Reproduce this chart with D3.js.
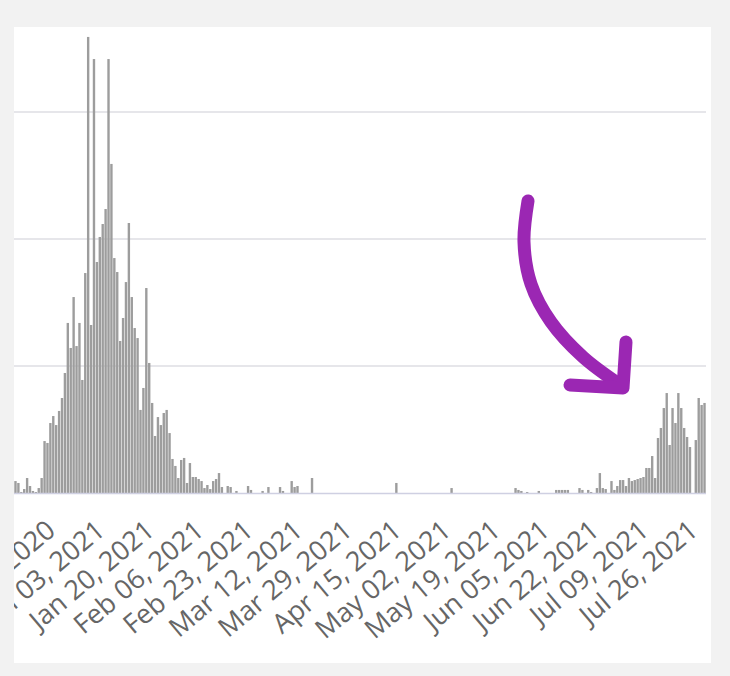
<!DOCTYPE html>
<html>
<head>
<meta charset="utf-8">
<script src="https://cdn.jsdelivr.net/npm/d3@7"></script>
<style>
  body { margin: 0; background: #f2f2f2; }
  svg { display: block; }
</style>
</head>
<body>
<script>
// Daily counts, one bar per day from startDate to endDate
const startDate = "2020-12-03";
const endDate = "2021-07-28";

const values = [
  94, 79, 8, 31, 118, 55, 16, 8, 39, 118,
  409, 394, 551, 606, 535, 646, 748, 945, 1339, 1142,
  1543, 1157, 1339, 890, 1732, 3591, 1323, 3417, 1819, 2016,
  2118, 2236, 3417, 2591, 1850, 1740, 1197, 1378, 1661, 2126,
  1543, 1299, 1220, 654, 827, 1614, 1024, 709, 449, 598,
  535, 630, 654, 472, 268, 213, 118, 260, 276, 79,
  236, 126, 126, 110, 94, 39, 63, 31, 94, 110,
  157, 47, 0, 55, 47, 0, 16, 0, 0, 0,
  55, 24, 0, 0, 0, 16, 0, 47, 0, 0,
  0, 47, 16, 0, 0, 94, 47, 55, 0, 0,
  0, 0, 118, 0, 0, 0, 0, 0, 0, 0,
  0, 0, 0, 0, 0, 0, 0, 0, 0, 0,
  0, 0, 0, 0, 0, 0, 0, 0, 0, 0,
  0, 79, 0, 0, 0, 0, 0, 0, 0, 0,
  0, 0, 0, 0, 0, 0, 0, 0, 0, 0,
  39, 0, 0, 0, 0, 0, 0, 0, 0, 0,
  0, 0, 0, 0, 0, 0, 0, 0, 0, 0,
  0, 0, 39, 24, 16, 0, 8, 0, 0, 0,
  16, 0, 0, 0, 0, 0, 24, 24, 24, 24,
  24, 0, 0, 0, 39, 24, 0, 24, 8, 0,
  39, 157, 39, 31, 0, 94, 24, 55, 102, 102,
  55, 118, 94, 102, 110, 118, 126, 197, 197, 291,
  118, 433, 512, 669, 787, 378, 669, 551, 787, 669,
  512, 441, 362, 0, 417, 748, 693, 709
];

const tickLabels = [
  "Dec 17, 2020", "Jan 03, 2021", "Jan 20, 2021", "Feb 06, 2021",
  "Feb 23, 2021", "Mar 12, 2021", "Mar 29, 2021", "Apr 15, 2021",
  "May 02, 2021", "May 19, 2021", "Jun 05, 2021", "Jun 22, 2021",
  "Jul 09, 2021", "Jul 26, 2021"
];

const gridValues = [1000, 2000, 3000];

// hand-drawn purple arrow on top of the screenshot (pixel coords)
const arrowCurve = [[528, 201], [524, 242], [531, 284], [551, 322], [583, 357], [619, 384]];
const arrowHead = [[626, 342], [623, 388], [570, 385]];

const W = 730, H = 676;
const panel = {x0: 14, y0: 27, x1: 711, y1: 663};
const margin = {top: 35.8, right: 24, bottom: 183, left: 14};

const parse = d3.timeParse("%Y-%m-%d");
const key = d3.timeFormat("%Y-%m-%d");
const parseLabel = d3.timeParse("%b %d, %Y");

const days = d3.timeDay.range(parse(startDate), d3.timeDay.offset(parse(endDate), 1)).map(key);
const data = days.map((d, i) => ({day: d, value: values[i]}));
const tickKeys = tickLabels.map(t => key(parseLabel(t)));
const labelByKey = new Map(tickKeys.map((k, i) => [k, tickLabels[i]]));

const svg = d3.select("body")
  .append("svg")
  .attr("width", W)
  .attr("height", H);

svg.append("defs").append("clipPath")
  .attr("id", "panel-clip")
  .append("rect")
  .attr("x", panel.x0).attr("y", panel.y0)
  .attr("width", panel.x1 - panel.x0).attr("height", panel.y1 - panel.y0);

svg.append("rect")
  .attr("x", panel.x0).attr("y", panel.y0)
  .attr("width", panel.x1 - panel.x0).attr("height", panel.y1 - panel.y0)
  .attr("fill", "#fff");

const g = svg.append("g").attr("clip-path", "url(#panel-clip)");

const x = d3.scaleBand()
  .domain(days)
  .range([margin.left, W - margin.right])
  .paddingInner(0.18)
  .paddingOuter(0.1);

const y = d3.scaleLinear()
  .domain([0, 3600])
  .range([H - margin.bottom, margin.top]);

// gridlines
g.selectAll("line.grid")
  .data(gridValues)
  .join("line")
  .attr("class", "grid")
  .attr("x1", margin.left)
  .attr("x2", W - margin.right)
  .attr("y1", d => y(d))
  .attr("y2", d => y(d))
  .attr("stroke", "#e6e6ea")
  .attr("stroke-width", 2);

// bars
g.selectAll("rect.bar")
  .data(data)
  .join("rect")
  .attr("class", "bar")
  .attr("x", d => x(d.day))
  .attr("y", d => y(d.value))
  .attr("width", x.bandwidth())
  .attr("height", d => y(0) - y(d.value))
  .attr("fill", "#9d9d9d");

// baseline
g.append("line")
  .attr("x1", margin.left)
  .attr("x2", W - margin.right)
  .attr("y1", y(0) + 0.5)
  .attr("y2", y(0) + 0.5)
  .attr("stroke", "#cfd0e2")
  .attr("stroke-width", 1.5);

// X axis with rotated labels
const xAxis = g.append("g")
  .attr("transform", `translate(0,${y(0)})`)
  .call(d3.axisBottom(x).tickValues(tickKeys).tickFormat(k => labelByKey.get(k)).tickSize(0));

xAxis.select(".domain").remove();
xAxis.selectAll("text")
  .attr("x", 0)
  .attr("y", 0)
  .attr("dy", 0)
  .attr("transform", "translate(1,40) rotate(-40)")
  .attr("text-anchor", "end")
  .attr("fill", "#666")
  .style("font-family", "'Open Sans', sans-serif")
  .style("font-size", "27px");

// arrow annotation
const arrow = g.append("g")
  .attr("fill", "none")
  .attr("stroke", "#9b27b3")
  .attr("stroke-width", 13)
  .attr("stroke-linecap", "round")
  .attr("stroke-linejoin", "round");

arrow.append("path")
  .attr("d", d3.line().curve(d3.curveCatmullRom)(arrowCurve));
arrow.append("path")
  .attr("d", d3.line()(arrowHead));
</script>
</body>
</html>
